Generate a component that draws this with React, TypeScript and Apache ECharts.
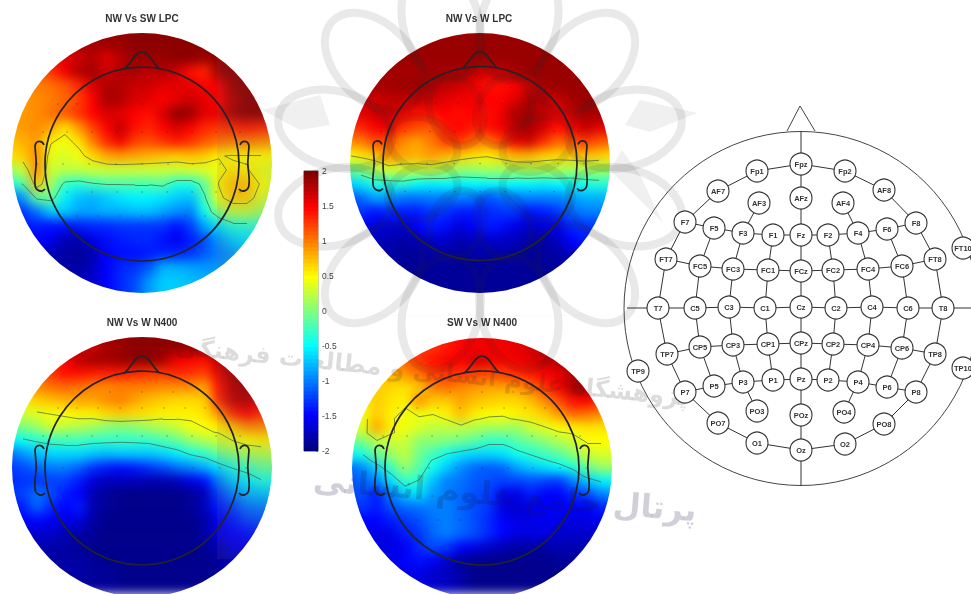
import React, { useEffect, useRef } from "react";
import * as echarts from "echarts";

const titles = ["NW Vs SW LPC", "NW Vs W LPC", "NW Vs W N400", "SW Vs W N400"];
const jet = ["#00007f", "#0000ff", "#007fff", "#00ffff", "#7fff7f", "#ffff00", "#ff7f00", "#ff0000", "#7f0000"];
const contourLevels = [0.53, -0.22];
const colorTicks = [-2, -1.5, -1, -0.5, 0, 0.5, 1, 1.5, 2];

// Potential, top row first (microvolts), 20 x 20 samples.
const nwSwLpc = [
  [1.6,1.6,1.6,1.6,1.7,1.8,1.85,1.9,1.9,1.95,1.95,1.95,1.95,1.95,1.95,1.95,1.95,1.95,1.95,1.95],
  [1.6,1.6,1.6,1.65,1.75,1.85,1.85,1.9,1.9,1.95,1.95,1.95,1.95,1.95,1.95,1.95,1.95,1.95,1.95,1.95],
  [1.4,1.4,1.5,1.5,1.6,1.7,1.8,1.6,1.8,1.9,1.9,1.9,1.95,1.95,1.9,1.95,1.95,1.95,1.95,1.95],
  [1.15,1.15,1.15,1.3,1.55,1.8,1.85,1.7,1.8,1.85,1.75,1.8,1.7,1.45,1.35,1.9,1.95,1.95,1.95,1.95],
  [.95,.95,1,1.05,1.15,1.35,1.65,1.8,1.8,1.7,1.7,1.6,1.6,1.6,1.5,1.55,1.9,1.95,1.95,1.95],
  [.9,.9,.95,1,1.1,1.25,1.5,1.85,1.8,1.65,1.6,1.5,1.6,1.7,1.6,1.5,1.8,1.95,1.95,1.95],
  [.85,.9,.95,1.05,1.15,1.3,1.5,1.65,1.6,1.5,1.45,1.65,1.95,1.9,1.6,1.6,1.85,1.95,1.95,1.9],
  [.85,.9,.95,.85,.6,.9,1.25,1.5,1.75,1.45,1.35,1.5,1.65,1.5,1.35,1.3,1.35,1.4,1.35,1.3],
  [.75,.8,.9,.55,.45,.6,1,1.35,1.55,1.25,1.2,1.3,1.4,1.3,1.15,1.05,1,1,.95,.9],
  [.6,.7,.95,.4,.35,.45,.65,.85,.9,.85,.8,.75,.7,.75,.7,.55,.5,.5,.5,.5],
  [.1,.3,.95,.3,.25,.25,.3,.3,.3,.3,.3,.3,.3,.35,.35,.45,.6,.55,.4,.35],
  [-.4,-.2,.75,.15,-.3,-.35,-.25,-.2,-.2,-.2,-.2,-.15,-.4,-.4,-.1,.55,.75,.75,.5,.3],
  [-1.2,-.9,-.15,-.1,-.55,-.75,-.8,-.7,-.6,-.55,-.55,-.6,-.7,-.75,-.25,.45,.7,.7,.35,.2],
  [-1.3,-1.3,-1.05,-.7,-.7,-.85,-.85,-.8,-.8,-.75,-.75,-.85,-.95,-1,-.45,.05,.25,.25,.1,.1],
  [-1.4,-1.4,-1.4,-1.45,-1.45,-1.4,-1.35,-1.35,-1.3,-1.3,-1.3,-1.3,-1.45,-1.25,-.85,-.6,-.35,-.35,-.3,-.3],
  [-1.5,-1.5,-1.5,-1.55,-1.8,-1.8,-1.6,-1.45,-1.4,-1.35,-1.35,-1.45,-1.55,-1.4,-1.2,-.9,-.7,-.6,-.6,-.6],
  [-1.7,-1.7,-1.7,-1.8,-1.85,-1.9,-1.8,-1.5,-1.45,-1.45,-1.4,-1.35,-1.35,-1.3,-1.15,-1,-.9,-.8,-.8,-.8],
  [-1.8,-1.8,-1.8,-1.8,-1.85,-1.85,-1.75,-1.5,-1.35,-1.3,-1.15,-.8,-.8,-.85,-.9,-.9,-.9,-.9,-.9,-.9],
  [-1.8,-1.8,-1.8,-1.8,-1.8,-1.75,-1.7,-1.5,-1.35,-1.2,-.9,-.7,-.7,-.75,-.8,-.8,-.8,-.8,-.8,-.8],
  [-1.8,-1.8,-1.8,-1.8,-1.8,-1.75,-1.7,-1.5,-1.35,-1.2,-.9,-.7,-.7,-.75,-.8,-.8,-.8,-.8,-.8,-.8],
];

const nwWLpc = [
  [1.9,1.9,1.9,1.9,1.9,1.9,1.9,1.9,1.9,1.9,1.9,1.9,1.9,1.9,1.9,1.9,1.9,1.9,1.9,1.9],
  [1.9,1.9,1.9,1.9,1.9,1.9,1.9,1.9,1.9,1.9,1.9,1.9,1.9,1.9,1.9,1.9,1.9,1.9,1.9,1.9],
  [1.9,1.9,1.9,1.9,1.9,1.9,1.9,1.9,1.9,1.9,1.9,1.9,1.9,1.9,1.9,1.9,1.9,1.9,1.9,1.9],
  [1.85,1.85,1.85,1.85,1.85,1.85,1.85,1.85,1.85,1.8,1.7,1.75,1.85,1.9,1.9,1.9,1.9,1.9,1.9,1.9],
  [1.8,1.8,1.85,1.85,1.9,1.9,1.85,1.75,1.7,1.55,1.45,1.45,1.5,1.7,1.85,1.9,1.9,1.9,1.9,1.9],
  [1.65,1.7,1.7,1.75,1.75,1.75,1.7,1.6,1.55,1.55,1.5,1.5,1.6,1.85,1.8,1.7,1.85,1.9,1.9,1.9],
  [1.55,1.6,1.7,1.75,1.55,1.45,1.45,1.5,1.45,1.5,1.45,1.55,1.85,1.85,1.75,1.6,1.7,1.85,1.85,1.85],
  [1.3,1.35,1.5,1.6,1.3,1.2,1.15,1.4,1.5,1.4,1.45,1.55,1.75,1.85,1.7,1.45,1.5,1.75,1.6,1.6],
  [.95,1,1.2,1.2,.95,.85,1,1.25,1.3,1.1,1,1.25,1.55,1.7,1.35,1.1,1.15,1.3,1.15,1.1],
  [.5,.6,.7,.95,.85,.8,.9,.8,.7,.6,.55,.65,.8,.8,.7,.65,.7,.75,.7,.6],
  [-.1,0,.2,.35,.3,.3,.3,.2,.1,.1,.15,.15,.15,.2,.2,.2,.15,.15,.15,.1],
  [-.7,-.6,-.4,-.4,-.35,-.5,-.55,-.5,-.55,-.5,-.5,-.5,-.5,-.5,-.55,-.5,-.5,-.4,-.35,-.35],
  [-1.2,-1.1,-.85,-.9,-1.05,-1.05,-1,-1.05,-1,-1.05,-1.2,-1.1,-1.05,-1,-1,-1,-.9,-.8,-.8,-.8],
  [-1.3,-1.3,-1.45,-1.35,-1.4,-1.4,-1.3,-1.3,-1.4,-1.4,-1.35,-1.3,-1.3,-1.45,-1.4,-1.3,-1.1,-1,-1,-1],
  [-1.6,-1.6,-1.6,-1.65,-1.7,-1.5,-1.4,-1.45,-1.65,-1.5,-1.4,-1.45,-1.6,-1.7,-1.65,-1.6,-1.35,-1.3,-1.3,-1.3],
  [-1.75,-1.75,-1.75,-1.8,-1.85,-1.8,-1.7,-1.7,-1.8,-1.75,-1.7,-1.7,-1.75,-1.85,-1.85,-1.75,-1.5,-1.4,-1.4,-1.4],
  [-1.85,-1.85,-1.85,-1.85,-1.9,-1.9,-1.85,-1.85,-1.9,-1.85,-1.85,-1.85,-1.85,-1.9,-1.9,-1.85,-1.75,-1.7,-1.7,-1.7],
  [-1.9,-1.9,-1.9,-1.9,-1.9,-1.9,-1.9,-1.9,-1.9,-1.9,-1.9,-1.9,-1.9,-1.9,-1.9,-1.9,-1.85,-1.8,-1.8,-1.8],
  [-1.9,-1.9,-1.9,-1.9,-1.9,-1.9,-1.9,-1.9,-1.9,-1.9,-1.9,-1.9,-1.9,-1.9,-1.9,-1.9,-1.85,-1.85,-1.85,-1.85],
  [-1.9,-1.9,-1.9,-1.9,-1.9,-1.9,-1.9,-1.9,-1.9,-1.9,-1.9,-1.9,-1.9,-1.9,-1.9,-1.9,-1.85,-1.85,-1.85,-1.85],
];

const nwWN400 = [
  [1.7,1.7,1.7,1.7,1.7,1.7,1.75,1.85,1.9,1.95,1.95,1.95,1.95,1.95,1.9,1.9,1.9,1.9,1.9,1.9],
  [1.7,1.7,1.7,1.7,1.7,1.7,1.7,1.85,1.9,1.95,1.95,1.95,1.95,1.95,1.9,1.9,1.9,1.9,1.9,1.9],
  [1.3,1.3,1.3,1.3,1.5,1.75,1.85,1.85,1.9,1.95,1.95,1.85,1.55,1.5,1.45,1.8,1.9,1.9,1.9,1.9],
  [1.1,1.1,1.15,1.3,1.45,1.45,1.4,1.4,1.4,1.35,1.3,1.3,1.35,1.3,1.25,1.6,1.9,1.85,1.85,1.85],
  [.85,.9,.95,1.05,1.1,1.05,1,.95,1,1,1,.95,.95,.95,.85,1.45,1.8,1.9,1.85,1.8],
  [.5,.55,.7,.75,.8,.85,.85,.95,1,.85,.75,.7,.65,.65,.7,1.35,1.75,1.8,1.6,1.5],
  [.25,.3,.4,.45,.5,.55,.55,.65,.7,.65,.6,.55,.55,.55,.6,.95,1.35,1.5,1.35,1.3],
  [-.1,0,.1,.35,.25,.2,.15,.05,0,.05,.15,.2,.3,.45,.5,.55,.75,.95,.95,.9],
  [-.55,-.45,-.35,-.3,-.25,-.25,-.3,-.3,-.3,-.3,-.3,-.2,-.1,.1,.2,.3,.4,.5,.55,.55],
  [-1.1,-.9,-.75,-.65,-.65,-.65,-.7,-.75,-.7,-.7,-.7,-.65,-.55,-.4,-.3,-.1,.05,.15,.2,.2],
  [-1.3,-1.2,-1.1,-1,-1,-1.1,-1.3,-1.4,-1.45,-1.4,-1.3,-1.2,-1.05,-.95,-.8,-.6,-.4,-.25,-.1,-.1],
  [-1.35,-1.3,-1.3,-1.25,-1.25,-1.4,-1.65,-1.75,-1.75,-1.75,-1.8,-1.8,-1.75,-1.6,-1.45,-1,-.7,-.55,-.4,-.4],
  [-1.3,-1.25,-1.05,-1.2,-1.4,-1.5,-1.8,-1.9,-1.95,-1.95,-1.95,-1.95,-1.95,-1.9,-1.8,-1.25,-1,-.8,-.75,-.7],
  [-1.4,-1.4,-1.1,-1.35,-1.5,-1.4,-1.8,-1.9,-1.95,-1.95,-1.95,-1.95,-1.95,-1.9,-1.75,-1.4,-1.25,-1.05,-1,-1],
  [-1.6,-1.5,-1.5,-1.55,-1.6,-1.6,-1.85,-1.95,-1.95,-1.95,-1.95,-1.95,-1.95,-1.95,-1.85,-1.55,-1.4,-1.25,-1.2,-1.2],
  [-1.7,-1.7,-1.7,-1.7,-1.8,-1.85,-1.9,-1.95,-1.95,-1.95,-1.95,-1.95,-1.95,-1.95,-1.85,-1.6,-1.5,-1.45,-1.4,-1.4],
  [-1.8,-1.8,-1.8,-1.85,-1.85,-1.9,-1.95,-1.95,-1.95,-1.95,-1.95,-1.95,-1.95,-1.95,-1.9,-1.8,-1.6,-1.6,-1.6,-1.6],
  [-1.8,-1.8,-1.8,-1.85,-1.85,-1.85,-1.9,-1.95,-1.95,-1.95,-1.95,-1.95,-1.95,-1.95,-1.95,-1.9,-1.75,-1.75,-1.75,-1.75],
  [-1.8,-1.8,-1.8,-1.85,-1.85,-1.85,-1.9,-1.9,-1.95,-1.95,-1.95,-1.95,-1.95,-1.95,-1.95,-1.9,-1.8,-1.8,-1.8,-1.8],
  [-1.8,-1.8,-1.8,-1.85,-1.85,-1.85,-1.9,-1.9,-1.95,-1.95,-1.95,-1.95,-1.95,-1.95,-1.95,-1.9,-1.8,-1.8,-1.8,-1.8],
];

const swWN400 = [
  [1.3,1.3,1.3,1.3,1.3,1.3,1.35,1.4,1.5,1.55,1.55,1.55,1.6,1.65,1.8,1.85,1.85,1.85,1.85,1.85],
  [1.3,1.3,1.3,1.3,1.3,1.3,1.3,1.4,1.5,1.55,1.55,1.55,1.6,1.65,1.8,1.85,1.85,1.85,1.85,1.85],
  [.95,.95,.95,1,1.1,1.3,1.45,1.55,1.5,1.7,1.6,1.5,1.55,1.65,1.75,1.8,1.85,1.85,1.85,1.85],
  [.7,.7,.75,.8,.9,1.05,1.25,1.3,1.3,1.25,1.2,1.25,1.35,1.4,1.5,1.6,1.8,1.85,1.85,1.85],
  [.6,.65,.7,.65,.6,.7,1,1.05,.95,.9,.85,.85,.9,1.05,1.3,1.55,1.85,1.9,1.8,1.7],
  [.5,.55,.7,.6,.55,.95,.7,.7,.85,.75,.7,.65,.65,.75,.95,1.2,1.45,1.5,1.35,1.3],
  [.4,.45,.7,.55,.45,.45,.45,.55,.75,.55,.5,.5,.55,.6,.7,.9,1.1,1.05,.95,.9],
  [.35,.4,.85,.55,.45,.35,.25,.25,.25,.2,.15,.15,.1,.3,.4,.5,.55,.6,.6,.6],
  [-.1,0,.25,.3,.3,.05,.05,0,-.05,-.15,-.3,-.3,-.15,-.05,.05,.2,.3,.5,.5,.5],
  [-.5,-.4,-.1,.1,.25,-.05,-.25,-.45,-.6,-.65,-.65,-.6,-.45,-.35,-.25,-.15,.05,.3,.35,.35],
  [-1.1,-.95,-.65,-.25,.1,-.15,-.45,-.7,-.95,-1.1,-1.15,-1.1,-.85,-.7,-.6,-.5,-.4,-.1,.1,.1],
  [-1.2,-1.1,-1,-.6,-.3,-.35,-.75,-1,-1.05,-1.15,-1.2,-1.25,-1.25,-1.2,-1.25,-1.3,-1,-.7,-.55,-.5],
  [-1.25,-1.2,-1.4,-1,-.7,-.6,-.9,-1,-1.1,-1.2,-1.25,-1.55,-1.6,-1.4,-1.55,-1.5,-1.35,-1.25,-1,-.9],
  [-1.3,-1.3,-1.4,-1.2,-1.1,-1.05,-1,-1,-1.1,-1.2,-1.3,-1.65,-1.7,-1.6,-1.5,-1.5,-1.5,-1.55,-1.4,-1.3],
  [-1.5,-1.5,-1.5,-1.4,-1.3,-1.2,-1.05,-1,-1.1,-1.2,-1.35,-1.5,-1.6,-1.6,-1.55,-1.6,-1.65,-1.6,-1.55,-1.5],
  [-1.6,-1.6,-1.6,-1.6,-1.4,-1.3,-1.1,-1,-1.1,-1.2,-1.35,-1.5,-1.6,-1.6,-1.6,-1.7,-1.7,-1.7,-1.7,-1.7],
  [-1.6,-1.6,-1.6,-1.6,-1.55,-1.35,-1.2,-1.3,-1.5,-1.6,-1.7,-1.8,-1.85,-1.85,-1.85,-1.8,-1.8,-1.8,-1.8,-1.8],
  [-1.6,-1.6,-1.6,-1.6,-1.5,-1.45,-1.55,-1.7,-1.9,-1.95,-1.95,-1.95,-1.95,-1.95,-1.95,-1.9,-1.9,-1.9,-1.9,-1.9],
  [-1.6,-1.6,-1.6,-1.6,-1.6,-1.6,-1.7,-1.75,-1.85,-1.95,-1.95,-1.95,-1.95,-1.95,-1.95,-1.95,-1.9,-1.9,-1.9,-1.9],
  [-1.6,-1.6,-1.6,-1.6,-1.6,-1.6,-1.7,-1.75,-1.85,-1.95,-1.95,-1.95,-1.95,-1.95,-1.95,-1.95,-1.9,-1.9,-1.9,-1.9],
];

const mapRows = [nwSwLpc, nwWLpc, nwWN400, swWN400];
const mapCenterX = [142, 480, 142, 482];
const mapCenterY = [163, 163, 467, 468];
const headCenterY = [164, 163.5, 468, 468];

// Sensor dots on the scalp maps, offsets from the head centre.
const dotRowY = [-76, -60, -32, 0, 28, 52, 76];
const dotRowX = [
  [-32, 0, 31],
  [-84, -65, -44, -22, 0, 22, 43, 63],
  [-99, -75, -50, -25, 0, 25, 50, 74, 98],
  [-105, -79, -53, -26, 0, 26, 51, 78, 104],
  [-100, -75, -50, -25, 0, 25, 50, 74, 98],
  [-65, -44, -22, 0, 21, 43, 63],
  [-32, 0, 31],
];

// 10-20 montage
const electrodeNames = [
  "Fpz","Fp1","Fp2","AF7","AF8","AF3","AFz","AF4",
  "F7","F5","F3","F1","Fz","F2","F4","F6","F8",
  "FT7","FC5","FC3","FC1","FCz","FC2","FC4","FC6","FT8","FT10",
  "T7","C5","C3","C1","Cz","C2","C4","C6","T8",
  "TP7","CP5","CP3","CP1","CPz","CP2","CP4","CP6","TP8","TP9","TP10",
  "P7","P5","P3","P1","Pz","P2","P4","P6","P8",
  "PO3","POz","PO4","PO7","PO8","O1","Oz","O2",
];
const electrodeX = [
  801,757,845,718,884,759,801,843,
  685,714,743,773,801,828,858,887,916,
  666,700,733,768,801,833,868,902,935,963,
  658,695,729,765,801,836,872,908,943,
  667,700,733,768,801,833,868,902,935,638,963,
  685,714,743,773,801,828,858,887,916,
  757,801,844,718,884,757,801,845,
];
const electrodeY = [
  164,171,171,191,190,203,198,203,
  222,228,233,235,235,235,233,229,223,
  259,266,269,270,271,270,269,266,259,248,
  308,308,307,308,307,308,307,308,308,
  354,347,345,344,343,344,345,348,354,371,368,
  392,386,382,380,379,380,382,387,392,
  411,415,412,423,424,443,450,444,
];
const axisEnds: Record<string, number[]> = { W: [627, 308], E: [971, 308], N: [801, 131], S: [801, 486] };
const chains = [
  ["W","T7","C5","C3","C1","Cz","C2","C4","C6","T8","E"],
  ["N","Fpz","AFz","Fz","FCz","Cz","CPz","Pz","POz","Oz","S"],
  ["F7","F5","F3","F1","Fz","F2","F4","F6","F8"],
  ["FT7","FC5","FC3","FC1","FCz","FC2","FC4","FC6","FT8"],
  ["TP7","CP5","CP3","CP1","CPz","CP2","CP4","CP6","TP8"],
  ["P7","P5","P3","P1","Pz","P2","P4","P6","P8"],
  ["Fpz","Fp1","AF7","F7","FT7","T7","TP7","P7","PO7","O1","Oz","O2","PO8","P8","TP8","T8","FT8","F8","AF8","Fp2","Fpz"],
  ["AF3","F3","FC3","C3","CP3","P3","PO3"],
  ["AF4","F4","FC4","C4","CP4","P4","PO4"],
  ["F5","FC5","C5","CP5","P5"],
  ["F6","FC6","C6","CP6","P6"],
  ["F1","FC1","C1","CP1","P1"],
  ["F2","FC2","C2","CP2","P2"],
];

const CELL = 14;
const MAP_R = 130;

echarts.graphic.registerShape(
  "scalpMask",
  echarts.graphic.extendPath(
    "M-152 -152H152V152H-152Z M-130 0 A130 130 0 1 0 130 0 A130 130 0 1 0 -130 0Z",
    {}
  )
);
echarts.graphic.registerShape(
  "headFeatures",
  echarts.graphic.extendPath(
    "M-17 -96 C-11 -100 -7 -112 0 -112 C7 -112 11 -100 17 -96 " +
      "M-98 -19 C-100 -24 -106 -24 -107 -18 L-106 -5 C-105 3 -108 12 -107 20 C-107 27 -100 29 -97 25 " +
      "M98 -19 C100 -24 106 -24 107 -18 L106 -5 C105 3 108 12 107 20 C107 27 100 29 97 25",
    {}
  )
);

const range = (n: number) => Array.from({ length: n }, (_, i) => i);

function contourSegments(rows: number[][], cx: number, cy: number, level: number) {
  const out: { coords: number[][] }[] = [];
  const px = (c: number) => cx - 10 * CELL + (c + 0.5) * CELL;
  const py = (r: number) => cy - 10 * CELL + (r + 0.5) * CELL;
  for (let r = 0; r < rows.length - 1; r++) {
    for (let c = 0; c < rows[r].length - 1; c++) {
      const a = rows[r][c], b = rows[r][c + 1], d = rows[r + 1][c], e = rows[r + 1][c + 1];
      const pts: number[][] = [];
      if ((a - level) * (b - level) < 0) pts.push([px(c + (level - a) / (b - a)), py(r)]);
      if ((b - level) * (e - level) < 0) pts.push([px(c + 1), py(r + (level - b) / (e - b))]);
      if ((d - level) * (e - level) < 0) pts.push([px(c + (level - d) / (e - d)), py(r + 1)]);
      if ((a - level) * (d - level) < 0) pts.push([px(c), py(r + (level - a) / (d - a))]);
      for (let i = 0; i + 1 < pts.length; i += 2) {
        const p = pts[i], q = pts[i + 1];
        if (Math.hypot(p[0] - cx, p[1] - cy) < MAP_R && Math.hypot(q[0] - cx, q[1] - cy) < MAP_R) {
          out.push({ coords: [p, q] });
        }
      }
    }
  }
  return out;
}

function watermark() {
  const stroke = "rgba(40,40,40,0.1)";
  const els: any[] = [];
  const cx = 480, cy = 168;
  range(12).forEach((i) => {
    const t = ((i + 0.5) * Math.PI) / 6;
    els.push({
      type: "ellipse", z: 1, x: cx + 150 * Math.cos(t), y: cy + 150 * Math.sin(t), rotation: -t,
      shape: { cx: 0, cy: 0, rx: 58, ry: 38 }, style: { fill: "none", stroke, lineWidth: 8 },
    });
  });
  range(8).forEach((i) => {
    const t = (i * Math.PI) / 4 + Math.PI / 8;
    els.push({
      type: "ellipse", z: 1, x: cx + 62 * Math.cos(t), y: cy + 62 * Math.sin(t), rotation: -t,
      shape: { cx: 0, cy: 0, rx: 36, ry: 26 }, style: { fill: "none", stroke, lineWidth: 8 },
    });
  });
  [[[640, 100], [697, 113], [650, 132], [625, 125]], [[262, 110], [320, 95], [330, 125], [300, 130]], [[663, 223], [610, 170], [622, 150], [640, 175]]].forEach((points) => {
    els.push({ type: "polygon", z: 1, shape: { points }, style: { fill: "rgba(40,40,40,0.07)" } });
  });
  els.push({
    type: "text", z: 1, x: 432, y: 372, rotation: -0.1,
    style: { text: "پژوهشگاه علوم انسانی و مطالعات فرهنگی", fontFamily: "DejaVu Sans", fontSize: 24, fontWeight: "bold", fill: "rgba(40,40,40,0.16)", align: "center", verticalAlign: "middle" },
  });
  els.push({
    type: "text", z: 1, x: 505, y: 495, rotation: -0.08,
    style: { text: "پرتال جامع علوم انسانی", fontFamily: "DejaVu Sans", fontSize: 32, fontWeight: "bold", fill: "rgba(20,20,70,0.2)", align: "center", verticalAlign: "middle" },
  });
  return els;
}

function heatOption() {
  const cols = range(20);
  return {
    animation: false,
    visualMap: { show: false, min: -2, max: 2, dimension: 2, inRange: { color: jet } },
    grid: mapRows.map((_, m) => ({
      left: mapCenterX[m] - 10 * CELL, top: mapCenterY[m] - 10 * CELL, width: 20 * CELL, height: 20 * CELL,
    })),
    xAxis: mapRows.map((_, m) => ({ type: "category", gridIndex: m, data: cols, show: false })),
    yAxis: mapRows.map((_, m) => ({ type: "category", gridIndex: m, data: cols, show: false, inverse: true })),
    series: mapRows.map((rows, m) => ({
      type: "heatmap", xAxisIndex: m, yAxisIndex: m, silent: true,
      data: rows.flatMap((row, r) => row.map((v, c) => [c, r, v])),
    })),
  };
}

function overlayOption() {
  const levels = range(70).map((i) => -2 + (i * 4) / 69);
  const lookup = (n: string) => {
    const i = electrodeNames.indexOf(n);
    return i >= 0 ? [electrodeX[i], electrodeY[i]] : axisEnds[n];
  };
  const graphic: any[] = [];
  graphic.push({
    type: "rect", z: -1, shape: { x: 217, y: 58, width: 56, height: 501 },
    style: { fill: "rgba(125,100,100,0.12)" },
  });
  mapRows.forEach((_, m) => {
    graphic.push({ type: "scalpMask", z: 0, x: mapCenterX[m], y: mapCenterY[m], style: { fill: "#ffffff" } });
    graphic.push({
      type: "circle", z: 10, x: mapCenterX[m], y: headCenterY[m], shape: { cx: 0, cy: 0, r: 97 },
      style: { fill: "none", stroke: "#222228", lineWidth: 1.7 },
    });
    graphic.push({
      type: "headFeatures", z: 10, x: mapCenterX[m], y: headCenterY[m],
      style: { fill: "none", stroke: "#222228", lineWidth: 1.7 },
    });
  });
  graphic.push(...watermark());
  graphic.push({
    type: "circle", z: 2, x: 801, y: 308.5, shape: { cx: 0, cy: 0, r: 177 },
    style: { fill: "none", stroke: "#444", lineWidth: 1 },
  });
  graphic.push({
    type: "polyline", z: 2, shape: { points: [[787, 131], [800, 106], [815, 131]] },
    style: { fill: "none", stroke: "#444", lineWidth: 1 },
  });

  return {
    animation: false,
    textStyle: { fontFamily: "Liberation Sans" },
    visualMap: { show: false, min: -2, max: 2, dimension: 2, seriesIndex: 0, inRange: { color: jet } },
    title: titles.map((text, m) => ({
      text,
      left: mapCenterX[m] - (m === 1 ? 1 : 0),
      top: m < 2 ? 13 : 317,
      padding: 0,
      textAlign: "center",
      textStyle: { fontFamily: "Liberation Sans", fontSize: 10, fontWeight: "bold", color: "#333" },
    })),
    grid: [
      { left: 304, top: 171, width: 14, height: 280, show: true, borderColor: "#555", borderWidth: 0.6, backgroundColor: "transparent" },
      { left: 0, top: 0, width: 971, height: 594 },
    ],
    xAxis: [
      { type: "category", gridIndex: 0, data: [0], show: false },
      { type: "value", gridIndex: 1, min: 0, max: 971, show: false },
    ],
    yAxis: [
      { type: "category", gridIndex: 0, data: levels, show: false },
      {
        type: "value", gridIndex: 0, min: -2, max: 2, interval: 0.5, position: "right",
        axisLine: { show: false }, splitLine: { show: false },
        axisTick: { show: true, inside: true, length: 2, lineStyle: { color: "#555", width: 0.6 } },
        axisLabel: { fontSize: 8.5, color: "#444", margin: 4, fontFamily: "Liberation Sans", customValues: colorTicks },
      },
      { type: "value", gridIndex: 1, min: 0, max: 594, inverse: true, show: false },
    ],
    series: [
      {
        type: "heatmap", xAxisIndex: 0, yAxisIndex: 0, silent: true,
        data: levels.map((v, i) => [0, i, v]),
      },
      {
        type: "scatter", xAxisIndex: 1, yAxisIndex: 2, silent: true, symbolSize: 1.1,
        itemStyle: { color: "#222", opacity: 0.6 }, z: 3,
        data: mapRows.flatMap((_, m) =>
          dotRowY.flatMap((dy, r) => dotRowX[r].map((dx) => [mapCenterX[m] + dx, headCenterY[m] + dy]))
        ),
      },
      ...mapRows.flatMap((rows, m) =>
        contourLevels.map((level) => ({
          type: "lines", coordinateSystem: "cartesian2d", xAxisIndex: 1, yAxisIndex: 2, silent: true, z: 3,
          lineStyle: { color: "#3f5f3a", width: 0.8, opacity: 0.85 },
          data: contourSegments(rows, mapCenterX[m], mapCenterY[m], level),
        }))
      ),
      ...chains.map((chain) => ({
        type: "line", xAxisIndex: 1, yAxisIndex: 2, silent: true, symbol: "none", z: 4,
        lineStyle: { color: "#333", width: 1 },
        data: chain.map(lookup),
      })),
      {
        type: "scatter", xAxisIndex: 1, yAxisIndex: 2, silent: true, symbolSize: 22, z: 5,
        itemStyle: { color: "#ffffff", borderColor: "#333", borderWidth: 1.1, opacity: 1 },
        label: {
          show: true, position: "inside", formatter: "{b}", color: "#333",
          fontFamily: "Liberation Sans", fontWeight: "bold", fontSize: 7.5,
        },
        data: electrodeNames.map((name, i) => ({ name, value: [electrodeX[i], electrodeY[i]] })),
      },
    ],
    graphic: { elements: graphic },
  };
}

export default function App() {
  const heatRef = useRef<HTMLDivElement>(null);
  const overlayRef = useRef<HTMLDivElement>(null);
  useEffect(() => {
    document.body.style.margin = "0";
    const heat = echarts.init(heatRef.current!, undefined, { renderer: "svg" });
    const overlay = echarts.init(overlayRef.current!, undefined, { renderer: "svg" });
    heat.setOption(heatOption() as any);
    overlay.setOption(overlayOption() as any);
    return () => {
      heat.dispose();
      overlay.dispose();
    };
  }, []);
  const box: React.CSSProperties = { position: "absolute", left: 0, top: 0, width: 971, height: 594 };
  return (
    <div style={{ ...box, overflow: "hidden", background: "#fff" }}>
      <div ref={heatRef} style={{ ...box, filter: "blur(5.5px)" }} />
      <div ref={overlayRef} style={{ ...box, filter: "blur(0.45px)" }} />
    </div>
  );
}
